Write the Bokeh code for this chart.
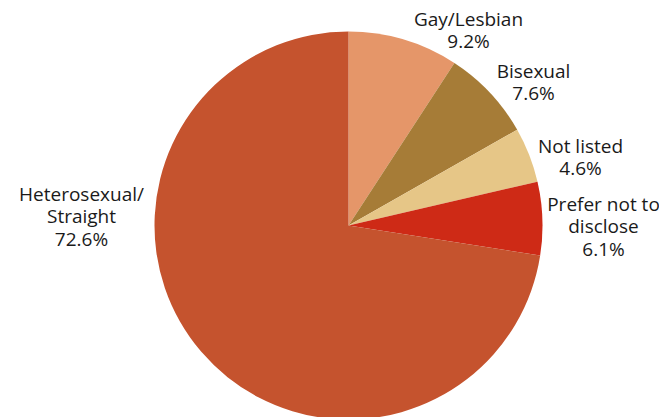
import math
from bokeh.plotting import figure
from bokeh.models import Range1d, ColumnDataSource
from bokeh.core.properties import value
from bokeh.embed import file_html
from bokeh.resources import INLINE

categories = ["Gay/Lesbian", "Bisexual", "Not listed", "Prefer not to disclose", "Heterosexual/Straight"]
percents = [9.2, 7.6, 4.6, 6.1, 72.6]
label_lines = [["Gay/Lesbian"], ["Bisexual"], ["Not listed"], ["Prefer not to", "disclose"], ["Heterosexual/", "Straight"]]
colors = ["#E59669", "#A67C37", "#E6C687", "#CE2A16", "#C5532E"]

# layout (pixel-like data coordinates, y measured upward from window bottom)
W, H = 659, 417
WIN_H = 417
cx, cy_screen, r = 348, 225, 194
label_pos = [(468, 18), (533, 70), (580, 145), (603, 203), (81, 193)]
line_gap = 22.5

p = figure(width=W, height=H, output_backend="svg", toolbar_location=None,
           x_range=Range1d(0, W), y_range=Range1d(WIN_H - H, WIN_H),
           min_border=0)
p.axis.visible = False
p.grid.visible = False
p.outline_line_color = None
p.background_fill_color = "white"

total = sum(percents)
starts, ends = [], []
cum = 0.0
for v in percents:
    starts.append(math.radians(90 - cum / total * 360))
    cum += v
    ends.append(math.radians(90 - cum / total * 360))

src = ColumnDataSource(dict(start=starts, end=ends, color=colors))
p.wedge(x=cx, y=WIN_H - cy_screen, radius=r, start_angle="start", end_angle="end",
        direction="clock", fill_color="color", line_color=None, source=src)

xs, ys, txt = [], [], []
for lines, v, (lx, ly) in zip(label_lines, percents, label_pos):
    allines = lines + [f"{v:.1f}%"]
    for i, t in enumerate(allines):
        xs.append(lx)
        ys.append(WIN_H - (ly + i * line_gap))
        txt.append(t)

p.text(x=xs, y=ys, text=txt, text_align="center", text_baseline="middle",
       text_font=value("Open Sans"), text_font_size="19px", text_color="#1a1a1a")

open("out.html", "w").write(file_html(p, INLINE))
